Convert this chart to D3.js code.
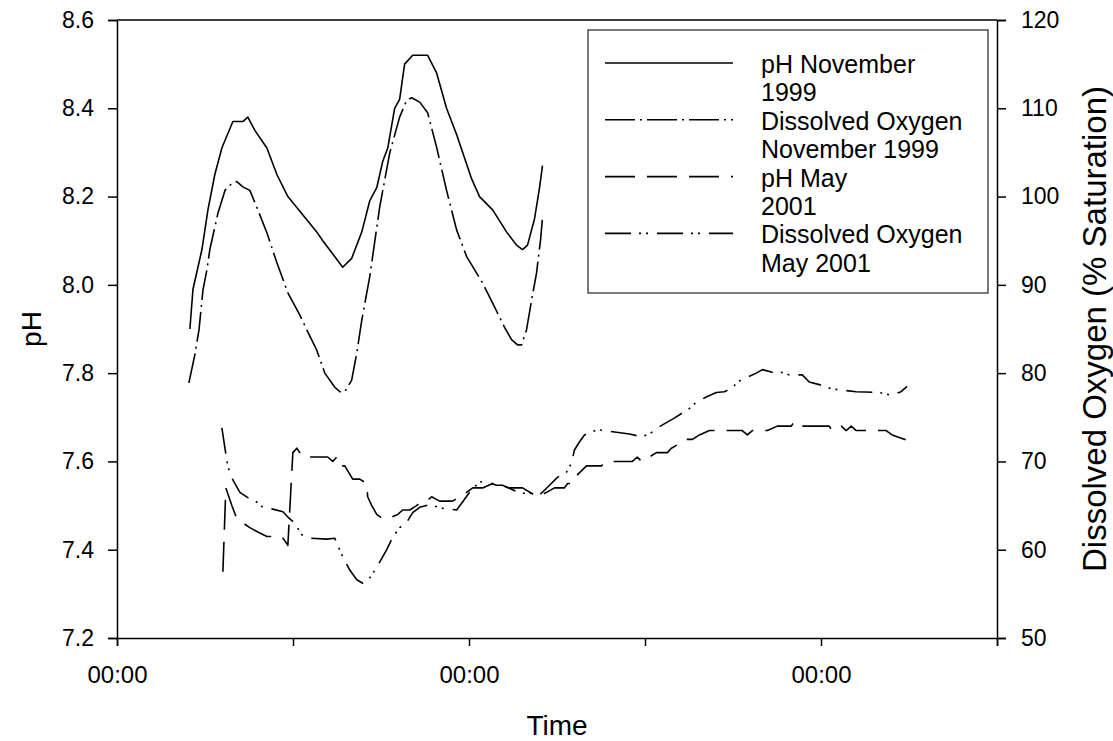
<!DOCTYPE html>
<meta charset="utf-8">
<style>
body {
  margin: 0;
  background: #fff;
  font-family: "Liberation Sans", Arial, sans-serif;
}
.axis path, .axis line {
  stroke: #000;
  stroke-width: 1.5px;
}
.axis text {
  fill: #000;
  font-family: "Liberation Sans", Arial, sans-serif;
}
.series {
  fill: none;
  stroke: #000;
  stroke-width: 1.6px;
  stroke-linejoin: round;
}
</style>
<body>
<svg width="1113" height="741"></svg>
<script src="https://d3js.org/d3.v7.min.js"></script>
<script>
// hours after the first midnight, value
var phNov1999 = [
  [4.97,7.90],[5.18,7.99],[5.79,8.08],[6.20,8.17],[6.67,8.25],[7.15,8.31],[7.90,8.37],
  [8.58,8.37],[8.92,8.38],[9.40,8.35],[10.22,8.31],[10.90,8.25],[11.65,8.20],[13.62,8.12],
  [14.03,8.10],[15.39,8.04],[16.00,8.06],[16.69,8.12],[17.23,8.19],[17.71,8.22],[18.12,8.28],
  [18.46,8.31],[18.93,8.40],[19.27,8.42],[19.61,8.50],[20.16,8.52],[21.18,8.52],[21.79,8.48],
  [22.47,8.40],[23.16,8.34],[24.18,8.24],[24.72,8.20],[25.61,8.17],[26.56,8.12],[27.24,8.09],
  [27.65,8.08],[27.99,8.09],[28.47,8.15],[28.81,8.22],[29.01,8.27]
];

var doNov1999 = [
  [4.90,78.9],[5.31,82.1],[5.59,84.9],[5.86,89.4],[6.13,91.7],[6.33,94.0],[6.88,98.1],
  [7.36,100.7],[7.83,101.5],[8.17,101.7],[8.58,101.1],[9.06,100.7],[9.60,98.5],[10.22,95.9],
  [10.90,92.5],[11.65,89.1],[12.46,86.6],[12.94,84.9],[13.62,82.6],[14.17,80.0],[14.85,78.4],
  [15.19,77.9],[15.53,77.9],[16.00,79.2],[16.35,82.3],[16.69,86.0],[17.03,89.1],[17.23,90.9],
  [17.91,98.8],[18.59,104.9],[19.27,109.0],[19.75,110.9],[20.09,111.2],[20.64,110.7],
  [21.18,109.5],[21.79,105.6],[22.47,100.7],[23.16,96.2],[23.84,93.2],[24.93,90.2],
  [25.74,87.5],[26.42,85.2],[26.90,83.8],[27.31,83.2],[27.58,83.2],[27.92,84.9],[28.27,88.3],
  [28.60,91.3],[28.88,95.1],[29.01,97.6]
];

var phMay2001 = [
  [7.22,7.35],[7.42,7.54],[7.83,7.50],[8.17,7.47],[9.06,7.45],[9.60,7.44],[10.22,7.43],
  [11.24,7.43],[11.65,7.41],[11.99,7.62],[12.26,7.63],[12.67,7.61],[14.37,7.61],[14.71,7.60],
  [14.98,7.61],[15.19,7.59],[15.53,7.59],[16.07,7.56],[16.55,7.56],[17.03,7.55],[17.09,7.52],
  [17.37,7.50],[17.71,7.48],[18.12,7.47],[18.46,7.47],[19.14,7.48],[19.48,7.49],[19.96,7.49],
  [20.43,7.50],[20.77,7.51],[21.11,7.51],[21.45,7.52],[22.00,7.51],[22.88,7.51],[23.36,7.52],
  [23.84,7.53],[24.25,7.54],[24.93,7.54],[25.61,7.55],[26.77,7.54],[27.65,7.54],[28.67,7.52],
  [29.29,7.53],[29.83,7.54],[30.51,7.54],[30.72,7.55],[31.06,7.55],[31.40,7.57],[32.01,7.59],
  [33.03,7.59],[33.37,7.60],[34.12,7.60],[35.14,7.60],[35.48,7.61],[35.76,7.60],[36.30,7.61],
  [36.78,7.62],[37.53,7.62],[37.80,7.63],[38.34,7.64],[38.68,7.65],[39.23,7.65],[39.71,7.66],
  [40.39,7.67],[42.63,7.67],[42.98,7.66],[43.32,7.67],[44.34,7.67],[45.02,7.68],[45.97,7.68],
  [46.18,7.69],[46.52,7.68],[48.56,7.68],[48.76,7.67],[49.38,7.68],[49.72,7.67],[50.06,7.68],
  [50.40,7.67],[52.44,7.67],[52.85,7.66],[53.67,7.65],[54.21,7.65]
];

var doMay2001 = [
  [7.15,73.8],[7.36,71.5],[7.56,69.4],[7.90,67.9],[8.38,66.5],[8.92,65.9],[9.53,65.4],
  [9.94,64.8],[10.62,64.6],[11.31,64.3],[11.65,63.7],[12.12,63.0],[12.60,61.7],[13.14,61.3],
  [14.30,61.2],[14.85,61.3],[15.05,60.5],[15.39,59.2],[15.87,57.7],[16.35,56.6],[16.75,56.2],
  [17.23,56.8],[17.71,58.0],[18.39,60.0],[18.80,61.4],[19.27,62.5],[19.75,63.1],[20.16,64.2],
  [20.64,64.8],[21.32,65.1],[22.20,64.7],[23.16,64.5],[23.56,65.4],[24.04,66.5],[24.72,67.7],
  [25.40,67.6],[25.88,67.3],[26.29,67.3],[26.97,66.8],[27.45,66.4],[28.33,66.4],[28.81,66.2],
  [29.49,67.3],[30.03,68.2],[30.65,68.8],[30.99,69.8],[31.19,71.3],[31.53,72.2],[31.87,73.0],
  [32.76,73.6],[34.05,73.3],[34.94,73.1],[35.76,72.8],[36.30,73.1],[36.85,73.8],[37.46,74.4],
  [38.00,74.9],[38.55,75.5],[38.89,75.8],[39.50,76.7],[40.18,77.3],[40.86,77.8],[41.41,77.9],
  [41.95,78.3],[42.29,79.0],[42.91,79.5],[43.59,80.0],[44.00,80.4],[44.68,80.1],[45.29,80.1],
  [45.84,79.8],[46.72,79.8],[47.20,79.0],[47.88,78.7],[48.56,78.3],[49.24,78.1],[50.40,77.9],
  [51.97,77.8],[52.78,77.5],[53.46,77.9],[53.87,78.5]
];

var timeTicks = [0, 12, 24, 36, 48, 60];
var timeTickLabels = ["00:00", "", "00:00", "", "00:00", ""];
var phTicks = [7.2, 7.4, 7.6, 7.8, 8.0, 8.2, 8.4, 8.6];
var doTicks = [50, 60, 70, 80, 90, 100, 110, 120];

var legendLabels = [
  ["pH November", "1999"],
  ["Dissolved Oxygen", "November 1999"],
  ["pH May", "2001"],
  ["Dissolved Oxygen", "May 2001"]
];

var svg = d3.select("svg"),
    margin = {top: 20, right: 116, bottom: 103, left: 117},
    width = +svg.attr("width") - margin.left - margin.right,
    height = +svg.attr("height") - margin.top - margin.bottom;

var x = d3.scaleLinear().domain([0, 60]).range([0, width]),
    yPh = d3.scaleLinear().domain([7.2, 8.6]).range([height, 0]),
    yDo = d3.scaleLinear().domain([50, 120]).range([height, 0]);

var g = svg.append("g")
    .attr("transform", "translate(" + margin.left + "," + margin.top + ")");

// top frame line
g.append("line")
    .attr("x1", 0).attr("x2", width)
    .attr("y1", 0).attr("y2", 0)
    .attr("stroke", "#000")
    .attr("stroke-width", 1.5);

g.append("g")
    .attr("class", "axis")
    .attr("transform", "translate(0," + height + ")")
    .call(d3.axisBottom(x).tickValues(timeTicks).tickSizeOuter(0).tickSize(8).tickPadding(20)
      .tickFormat(function(d, i) { return timeTickLabels[i]; }))
    .selectAll("text")
      .style("font-size", "24px");

g.append("g")
    .attr("class", "axis")
    .call(d3.axisLeft(yPh).tickValues(phTicks).tickSizeOuter(0).tickSize(9).tickPadding(14)
      .tickFormat(d3.format(".1f")))
    .selectAll("text")
      .style("font-size", "23px");

g.append("g")
    .attr("class", "axis")
    .attr("transform", "translate(" + width + ",0)")
    .call(d3.axisRight(yDo).tickValues(doTicks).tickSizeOuter(0).tickSize(9).tickPadding(15))
    .selectAll("text")
      .style("font-size", "23px");

var linePh = d3.line()
    .x(function(d) { return x(d[0]); })
    .y(function(d) { return yPh(d[1]); });

var lineDo = d3.line()
    .x(function(d) { return x(d[0]); })
    .y(function(d) { return yDo(d[1]); });

var dashes = ["none", "30,5,2,5", "30,12", "26,8,2,5,2,9"];

g.append("path").datum(phNov1999).attr("class", "series")
    .attr("d", linePh).attr("stroke-dasharray", dashes[0]);
g.append("path").datum(doNov1999).attr("class", "series")
    .attr("d", lineDo).attr("stroke-dasharray", dashes[1]);
g.append("path").datum(phMay2001).attr("class", "series")
    .attr("d", linePh).attr("stroke-dasharray", dashes[2]);
g.append("path").datum(doMay2001).attr("class", "series")
    .attr("d", lineDo).attr("stroke-dasharray", dashes[3]);

// axis titles
svg.append("text")
    .attr("transform", "translate(41," + (margin.top + height / 2) + ") rotate(-90)")
    .style("text-anchor", "middle")
    .style("font-size", "28px")
    .text("pH");

svg.append("text")
    .attr("transform", "translate(1106," + (margin.top + height / 2) + ") rotate(-90)")
    .style("text-anchor", "middle")
    .style("font-size", "33px")
    .text("Dissolved Oxygen (% Saturation)");

svg.append("text")
    .attr("x", margin.left + width / 2)
    .attr("y", 735)
    .style("text-anchor", "middle")
    .style("font-size", "28px")
    .text("Time");

// legend
var legend = svg.append("g").attr("transform", "translate(588,30)");

legend.append("rect")
    .attr("width", 400)
    .attr("height", 263)
    .attr("fill", "#fff")
    .attr("stroke", "#333")
    .attr("stroke-width", 1.3);

var lineSpacing = 28.4;

legendLabels.forEach(function(lines, i) {
  var sy = 43 + i * 2 * lineSpacing - 10;
  legend.append("line")
      .attr("class", "series")
      .attr("x1", 17).attr("x2", 145)
      .attr("y1", sy).attr("y2", sy)
      .attr("stroke-dasharray", dashes[i]);
  lines.forEach(function(t, j) {
    legend.append("text")
        .attr("x", 173)
        .attr("y", 43 + (i * 2 + j) * lineSpacing)
        .style("font-size", "25px")
        .text(t);
  });
});
</script>
</body>
